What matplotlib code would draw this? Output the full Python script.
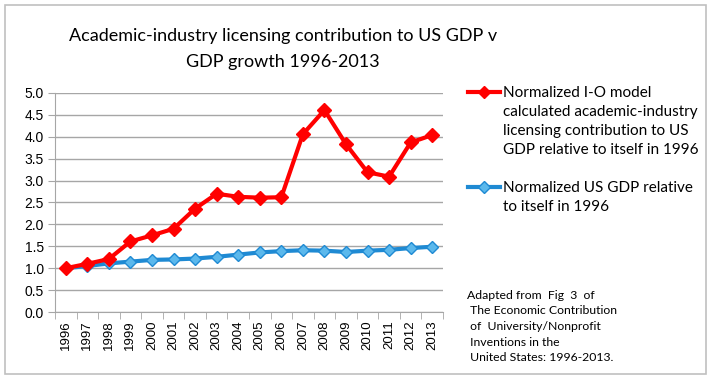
import numpy as np
import matplotlib.pyplot as plt
from matplotlib.patches import Rectangle

years = [str(y) for y in range(1996, 2014)]
licensing = [1.00, 1.10, 1.21, 1.61, 1.75, 1.90, 2.36, 2.70, 2.63, 2.61,
             2.62, 4.06, 4.61, 3.83, 3.19, 3.09, 3.87, 4.04]
gdp = [1.00, 1.05, 1.11, 1.15, 1.19, 1.20, 1.22, 1.26, 1.31, 1.36,
       1.39, 1.41, 1.40, 1.37, 1.40, 1.42, 1.46, 1.49]
yticks = np.arange(0, 5.01, 0.5)

title = "Academic-industry licensing contribution to US GDP v\nGDP growth 1996-2013"
label_red = ("Normalized I-O model\ncalculated academic-industry\n"
             "licensing contribution to US\nGDP relative to itself in 1996")
label_blue = "Normalized US GDP relative\nto itself in 1996"
note = ("Adapted from  Fig  3  of\n The Economic Contribution\n of  University/Nonprofit\n"
        " Inventions in the\n United States: 1996-2013.")

grey = "#a6a6a6"
red = "#ff0000"
blue = "#1f8ad3"
lightblue = "#5bb8ec"

fig = plt.figure(figsize=(7.11, 3.79), dpi=100)
ax = fig.add_axes([55 / 711, 1 - 312 / 379, 388 / 711, 219 / 379])

x = np.arange(len(years))
ax.plot(x, licensing, color=red, lw=3, marker="D", ms=7.5,
        markerfacecolor=red, markeredgecolor=red, zorder=4)
ax.plot(x, gdp, color=blue, lw=3, marker="D", ms=6.5,
        markerfacecolor=lightblue, markeredgecolor=blue, zorder=3)

ax.set_xlim(-0.5, len(years) - 0.5)
ax.set_ylim(0, 5)
ax.set_yticks(yticks)
ax.set_yticklabels([f"{v:.1f}" for v in yticks], fontsize=10,
                   family="Liberation Sans")
ax.set_xticks(x)
ax.set_xticklabels(years, rotation=90, fontsize=9.5, family="Liberation Sans")
ax.set_xticks(np.arange(-0.5, len(years), 1), minor=True)
ax.tick_params(axis="x", which="major", length=0, pad=6)
ax.tick_params(axis="x", which="minor", length=5, color=grey, direction="out")
ax.tick_params(axis="y", length=5, color=grey, direction="out", pad=3)
ax.grid(axis="y", color=grey, lw=1)
ax.set_axisbelow(True)
for s in ["top", "right"]:
    ax.spines[s].set_visible(False)
ax.spines["left"].set_color(grey)
ax.spines["bottom"].set_color(grey)

fig.text(0.398, 1 - 28 / 379, title, ha="center", va="top", fontsize=13,
         family="Lato", linespacing=1.75)

# legend drawn by hand
lx0, lx1, lxm = 468 / 711, 500 / 711, 484 / 711
for yy, c, fc in [(1 - 92 / 379, red, red), (1 - 187 / 379, blue, lightblue)]:
    fig.add_artist(plt.Line2D([lx0, lx1], [yy, yy], color=c, lw=3))
    fig.add_artist(plt.Line2D([lxm], [yy], color=c, marker="D", ms=6,
                              markerfacecolor=fc, markeredgecolor=c))
fig.text(503 / 711, 1 - 86 / 379, label_red, ha="left", va="top", fontsize=11,
         family="Lato", linespacing=1.45)
fig.text(503 / 711, 1 - 181 / 379, label_blue, ha="left", va="top", fontsize=11,
         family="Lato", linespacing=1.45)
fig.text(467 / 711, 1 - 290 / 379, note, ha="left", va="top", fontsize=8.8,
         family="Lato", linespacing=1.5)

fig.add_artist(Rectangle((5 / 711, 5 / 379), 701 / 711, 369 / 379,
                         transform=fig.transFigure, fill=False,
                         edgecolor="#c0c0c0", lw=1.2))

fig.savefig("out.png", dpi=100)
